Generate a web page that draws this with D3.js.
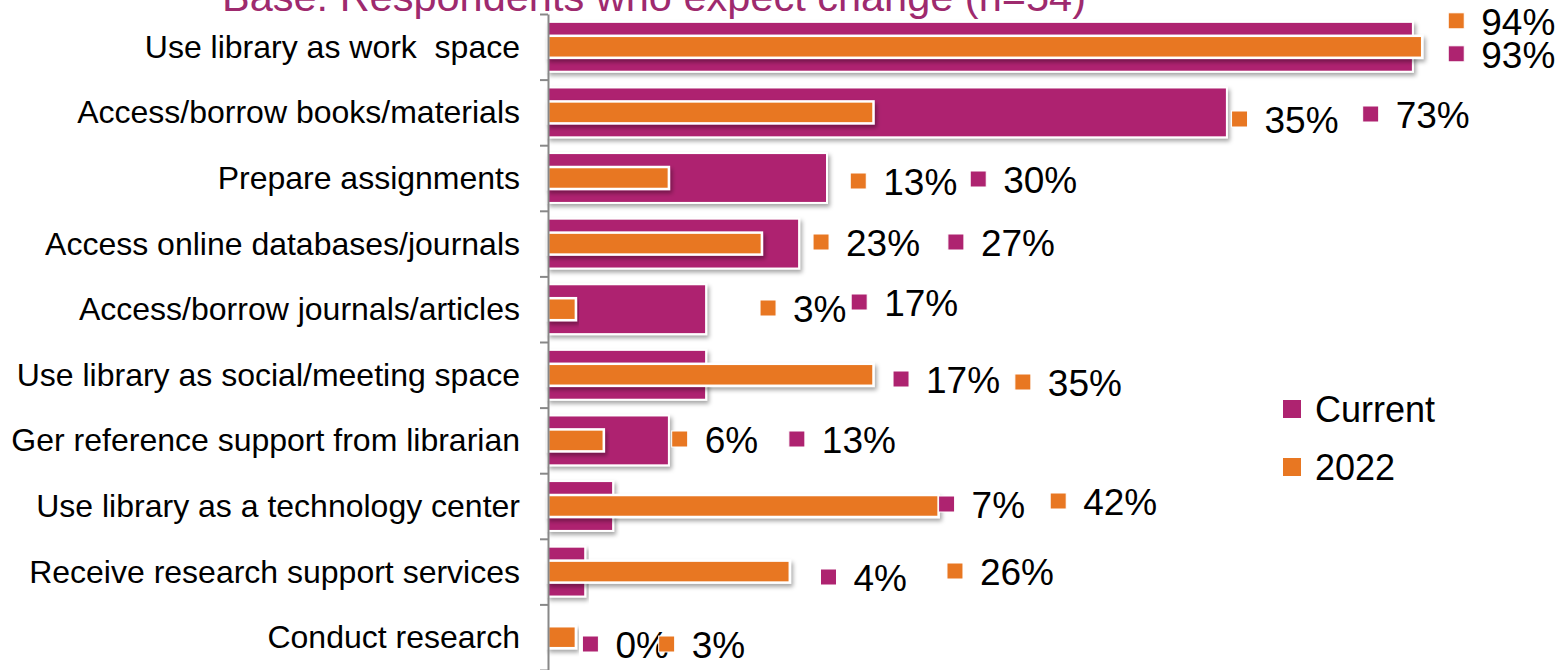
<!DOCTYPE html>
<html>
<head>
<meta charset="utf-8">
<script src="https://cdn.jsdelivr.net/npm/d3@7"></script>
<style>
  html, body { margin: 0; padding: 0; background: #fff; overflow: hidden; }
  svg { display: block; font-family: "Liberation Sans", Arial, sans-serif; }
</style>
</head>
<body>
<svg id="chart" width="1566" height="670"></svg>
<script>
// ---- data ----
const title = "Base: Respondents who expect change (n=54)";
const categories = [
  "Use library as work  space",
  "Access/borrow books/materials",
  "Prepare assignments",
  "Access online databases/journals",
  "Access/borrow journals/articles",
  "Use library as social/meeting space",
  "Ger reference support from librarian",
  "Use library as a technology center",
  "Receive research support services",
  "Conduct research"
];
const seriesNames = ["Current", "2022"];
const currentValues = [93, 73, 30, 27, 17, 17, 13, 7, 4, 0];
const values2022 = [94, 35, 13, 23, 3, 35, 6, 42, 26, 3];

// manual data-label placement (x in value units, dy in px from band centre)
const labelXCurrent = [96.8, 87.6, 45.4, 43.0, 32.6, 37.1, 25.9, 42.0, 29.3, 3.7];
const labelDyCurrent = [21, 15.6, 15, 12.4, 6.8, 18.2, 12.6, 12, 19.4, 20.8];
const labelX2022 = [96.8, 73.5, 32.5, 28.5, 22.8, 50.2, 13.3, 54.0, 42.9, 11.9];
const labelDy2022 = [-12, 20.6, 17, 12.4, 12.8, 21.2, 12.6, 9, 13.4, 20.8];

// ---- styles ----
const colCurrent = "#AE2370";
const col2022 = "#E87722";
const colors = [colCurrent, col2022];

const svg = d3.select("#chart");
const defs = svg.append("defs");
const f = defs.append("filter").attr("id", "shadow")
  .attr("x", "-5%").attr("y", "-30%").attr("width", "115%").attr("height", "170%");
f.append("feDropShadow").attr("dx", 2).attr("dy", 3).attr("stdDeviation", 2)
  .attr("flood-color", "#000").attr("flood-opacity", 0.35);

const x = d3.scaleLinear().domain([0, 100]).range([548, 1478]);
const y = d3.scaleBand().domain(categories).range([14, 670]).padding(0);
const yIdx = d3.scaleLinear().domain([0, categories.length]).range([14, 670]);
const bw = y.bandwidth();
const hCur = bw * 0.76;
const h22 = bw * 0.335;

// title
svg.append("text")
  .attr("x", 654).attr("y", 11)
  .attr("text-anchor", "middle")
  .attr("fill", "#9E2A6E")
  .style("font-size", "41.5px")
  .text(title);

// current bars
svg.append("g").selectAll("rect")
  .data(categories)
  .join("rect")
  .attr("x", x(0))
  .attr("y", d => y(d) + bw / 2 - hCur / 2)
  .attr("width", (d, i) => x(currentValues[i]) - x(0))
  .attr("height", hCur)
  .attr("fill", colCurrent)
  .attr("stroke", "#fff").attr("stroke-width", 2)
  .attr("filter", "url(#shadow)");

// 2022 bars
svg.append("g").selectAll("rect")
  .data(categories)
  .join("rect")
  .attr("x", x(0))
  .attr("y", d => y(d) + bw / 2 - h22 / 2)
  .attr("width", (d, i) => x(values2022[i]) - x(0))
  .attr("height", h22)
  .attr("fill", col2022)
  .attr("stroke", "#fff").attr("stroke-width", 2.5)
  .attr("filter", "url(#shadow)");

// axis
const axis = d3.axisLeft(yIdx)
  .tickValues(d3.range(0, categories.length + 1))
  .tickSize(8).tickSizeOuter(0).tickFormat("");
const ag = svg.append("g").attr("transform", `translate(${x(0)},0)`).call(axis);
ag.selectAll("path, line").attr("stroke", "#888").attr("stroke-width", 2);

// category labels
svg.append("g").selectAll("text")
  .data(categories)
  .join("text")
  .attr("x", 520)
  .attr("y", d => y(d) + bw / 2 + 11)
  .attr("text-anchor", "end")
  .attr("fill", "#000")
  .style("font-size", "32px")
  .style("white-space", "pre")
  .text(d => d);

// data labels
function drawLabels(vals, lx, ldy, color) {
  const g = svg.append("g");
  categories.forEach((c, i) => {
    const kx = x(lx[i]);
    const base = y(c) + bw / 2 + ldy[i];
    g.append("rect")
      .attr("x", kx).attr("y", base - 14 - 8)
      .attr("width", 16).attr("height", 16)
      .attr("fill", color)
      .attr("stroke", "#fff").attr("stroke-width", 1);
    g.append("text")
      .attr("x", kx + 33).attr("y", base)
      .attr("fill", "#000")
      .style("font-size", "37px")
      .text(vals[i] + "%");
  });
}
drawLabels(currentValues, labelXCurrent, labelDyCurrent, colCurrent);
drawLabels(values2022, labelX2022, labelDy2022, col2022);

// legend
const legend = svg.append("g").attr("transform", "translate(1283,400)");
seriesNames.forEach((s, i) => {
  legend.append("rect")
    .attr("x", 0).attr("y", i * 58)
    .attr("width", 18).attr("height", 18)
    .attr("fill", colors[i]);
  legend.append("text")
    .attr("x", 32).attr("y", i * 58 + 22)
    .attr("fill", "#000")
    .style("font-size", "36px")
    .text(s);
});
</script>
</body>
</html>
